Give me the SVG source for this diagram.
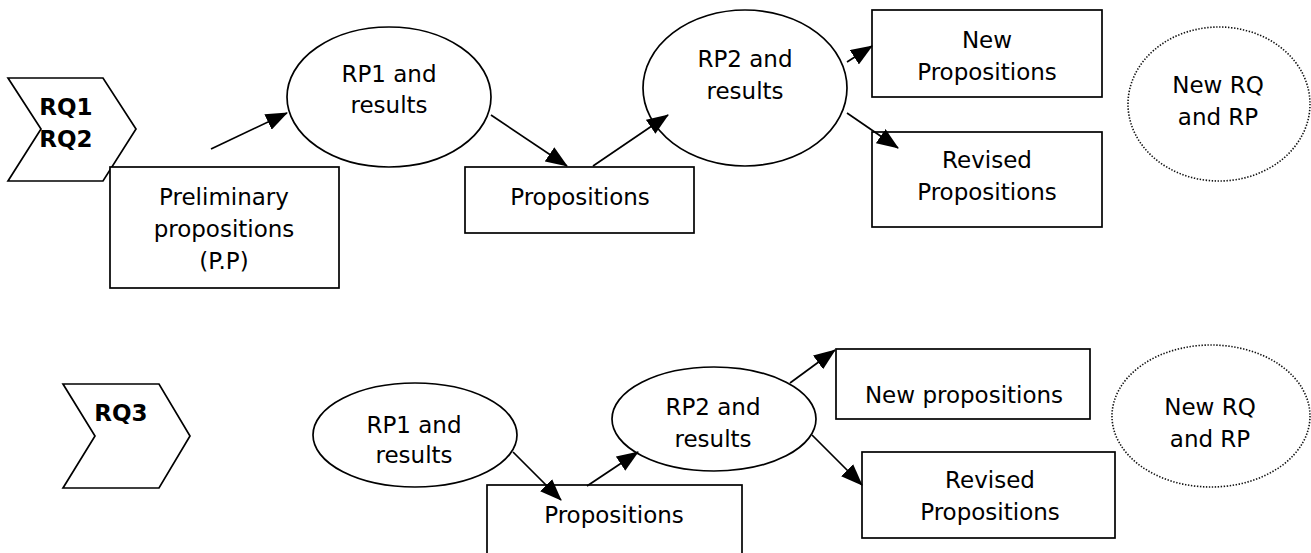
<svg xmlns="http://www.w3.org/2000/svg" width="1311" height="553" viewBox="0 0 1311 553">
  <style>
    .shape { fill: #ffffff; stroke: #000000; stroke-width: 1.7; }
    .dotted { fill: #ffffff; stroke: #111111; stroke-width: 1.6; stroke-dasharray: 1.4 1.6; }
    .lbl { font-family: "DejaVu Sans", Verdana, sans-serif; font-size: 23px; fill: #000000; text-anchor: middle; }
    .rq { font-family: "DejaVu Sans", Verdana, sans-serif; font-size: 23px; font-weight: bold; fill: #000000; text-anchor: middle; }
    .link { fill: none; stroke: #000000; stroke-width: 1.7; marker-end: url(#head); }
  </style>
  <defs>
    <marker id="head" markerUnits="userSpaceOnUse" viewBox="0 0 22 17" markerWidth="22" markerHeight="17" refX="21" refY="8.5" orient="auto">
      <path d="M0,0 L22,8.5 L0,17 Z" fill="#000000"/>
    </marker>
  </defs>
  <rect width="1311" height="553" fill="#ffffff"/>

  <!-- upper flow: RQ1 / RQ2 -->
  <g id="rq12">
    <path class="shape" d="M8,78 L103,78 L136,129 L103,181 L8,181 L41,129 Z"/>
    <text class="rq" x="66" y="115">RQ1</text>
    <text class="rq" x="66" y="147">RQ2</text>
  </g>
  <g id="preliminary">
    <rect class="shape" x="110" y="167" width="229" height="121"/>
    <text class="lbl" x="224" y="205">Preliminary</text>
    <text class="lbl" x="224" y="237">propositions</text>
    <text class="lbl" x="224" y="269">(P.P)</text>
  </g>
  <g id="rp1-top">
    <ellipse class="shape" cx="389" cy="97" rx="102" ry="70"/>
    <text class="lbl" x="389" y="82">RP1 and</text>
    <text class="lbl" x="389" y="113">results</text>
  </g>
  <g id="propositions-top">
    <rect class="shape" x="465" y="167" width="229" height="66"/>
    <text class="lbl" x="580" y="205">Propositions</text>
  </g>
  <g id="rp2-top">
    <ellipse class="shape" cx="745" cy="88" rx="102" ry="78"/>
    <text class="lbl" x="745" y="67">RP2 and</text>
    <text class="lbl" x="745" y="99">results</text>
  </g>
  <g id="new-propositions-top">
    <rect class="shape" x="872" y="10" width="230" height="87"/>
    <text class="lbl" x="987" y="48">New</text>
    <text class="lbl" x="987" y="80">Propositions</text>
  </g>
  <g id="revised-top">
    <rect class="shape" x="872" y="132" width="230" height="95"/>
    <text class="lbl" x="987" y="168">Revised</text>
    <text class="lbl" x="987" y="200">Propositions</text>
  </g>
  <g id="new-rq-top">
    <ellipse class="dotted" cx="1219" cy="104" rx="91" ry="77"/>
    <text class="lbl" x="1218" y="93">New RQ</text>
    <text class="lbl" x="1218" y="125">and RP</text>
  </g>

  <!-- lower flow: RQ3 -->
  <g id="rq3">
    <path class="shape" d="M63,384 L159,384 L190,436 L159,488 L63,488 L95,436 Z"/>
    <text class="rq" x="121" y="421">RQ3</text>
  </g>
  <g id="rp1-bottom">
    <ellipse class="shape" cx="415" cy="435" rx="102" ry="52"/>
    <text class="lbl" x="414" y="433">RP1 and</text>
    <text class="lbl" x="414" y="463">results</text>
  </g>
  <g id="propositions-bottom">
    <rect class="shape" x="487" y="485" width="255" height="80"/>
    <text class="lbl" x="614" y="523">Propositions</text>
  </g>
  <g id="rp2-bottom">
    <ellipse class="shape" cx="714" cy="419" rx="102" ry="52"/>
    <text class="lbl" x="713" y="415">RP2 and</text>
    <text class="lbl" x="713" y="447">results</text>
  </g>
  <g id="new-propositions-bottom">
    <rect class="shape" x="836" y="349" width="254" height="70"/>
    <text class="lbl" x="964" y="403">New propositions</text>
  </g>
  <g id="revised-bottom">
    <rect class="shape" x="862" y="452" width="253" height="86"/>
    <text class="lbl" x="990" y="488">Revised</text>
    <text class="lbl" x="990" y="520">Propositions</text>
  </g>
  <g id="new-rq-bottom">
    <ellipse class="dotted" cx="1211" cy="416" rx="99" ry="71"/>
    <text class="lbl" x="1210" y="415">New RQ</text>
    <text class="lbl" x="1210" y="447">and RP</text>
  </g>

  <!-- connectors -->
  <g id="connectors">
    <line class="link" x1="211" y1="149" x2="287" y2="113"/>
    <line class="link" x1="491" y1="115" x2="567" y2="166"/>
    <line class="link" x1="593" y1="166" x2="668" y2="115"/>
    <line class="link" x1="847" y1="62" x2="872" y2="46"/>
    <line class="link" x1="847" y1="113" x2="898" y2="148"/>
    <line class="link" x1="513" y1="452" x2="561" y2="500"/>
    <line class="link" x1="587" y1="486" x2="638" y2="452"/>
    <line class="link" x1="790" y1="383" x2="835" y2="350"/>
    <line class="link" x1="812" y1="435" x2="862" y2="485"/>
  </g>
</svg>
